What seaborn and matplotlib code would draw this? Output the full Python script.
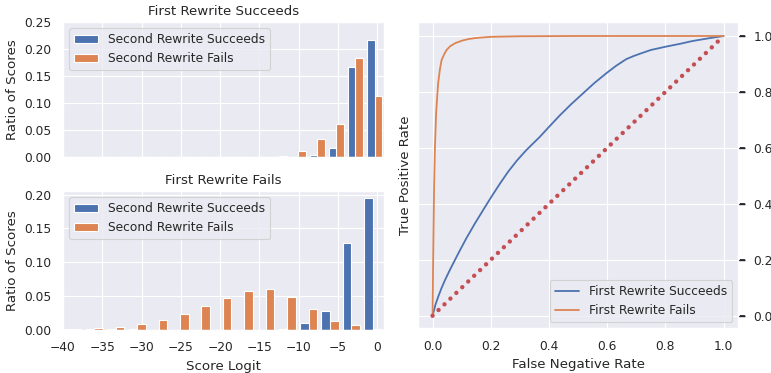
import numpy as np
import pandas as pd
import matplotlib
matplotlib.use("Agg")
import matplotlib.pyplot as plt
import seaborn as sns

# ---------------- data ----------------
hue_labels = ["Second Rewrite Succeeds", "Second Rewrite Fails"]

# Panel 1: First Rewrite Succeeds (15 bins)
top_bin_lo, top_bin_hi = -35.57, 0.88
top_succeeds = [0, 0, 0, 0, 0, 0, 0, 0, 0, 0.0002, 0.0006, 0.004, 0.0156, 0.167, 0.217]
top_fails = [0, 0, 0, 0, 0, 0, 0, 0, 0.0005, 0.002, 0.011, 0.034, 0.061, 0.183, 0.113]

# Panel 2: First Rewrite Fails (15 bins)
bot_bin_lo, bot_bin_hi = -40.10, 0.82
bot_succeeds = [0.0006, 0.0005, 0.0005, 0.0005, 0, 0, 0, 0, 0, 0, 0.0008, 0.0096, 0.0278, 0.1289, 0.1954]
bot_fails = [0.001, 0.003, 0.0041, 0.0086, 0.0145, 0.0234, 0.0357, 0.0466, 0.0574, 0.060,
             0.049, 0.0303, 0.0135, 0.0075, 0.001]

x_ticks = [-40, -35, -30, -25, -20, -15, -10, -5, 0]

# ROC curves
roc_labels = ["First Rewrite Succeeds", "First Rewrite Fails"]
succ_fnr = [0.0, 0.005, 0.01, 0.019, 0.03, 0.042, 0.06, 0.088, 0.115, 0.145, 0.175, 0.202,
            0.23, 0.259, 0.29, 0.322, 0.368, 0.40, 0.436, 0.475, 0.516, 0.555, 0.596,
            0.63, 0.665, 0.69, 0.711, 0.75, 0.802, 0.85, 0.893, 0.95, 1.0]
succ_tpr = [0.0, 0.02, 0.04, 0.067, 0.097, 0.126, 0.165, 0.222, 0.275, 0.329, 0.38, 0.425,
            0.47, 0.514, 0.555, 0.592, 0.639, 0.675, 0.715, 0.755, 0.794, 0.831, 0.866,
            0.893, 0.917, 0.928, 0.936, 0.95, 0.962, 0.972, 0.982, 0.992, 1.0]
fail_fnr = [0.0, 0.002, 0.005, 0.008, 0.012, 0.015, 0.019, 0.025, 0.031, 0.04, 0.048,
            0.06, 0.077, 0.1, 0.123, 0.15, 0.2, 0.3, 0.5, 1.0]
fail_tpr = [0.0, 0.2, 0.45, 0.6, 0.72, 0.77, 0.83, 0.88, 0.914, 0.935, 0.95,
            0.963, 0.974, 0.983, 0.989, 0.993, 0.997, 0.999, 1.0, 1.0]
chance = [0.0, 1.0]
rate_ticks = [0.0, 0.2, 0.4, 0.6, 0.8, 1.0]

# ---------------- style ----------------
sns.set_theme(context="paper", style="darkgrid")
plt.rcParams["font.family"] = ["DejaVu Sans"]
plt.rcParams["axes.unicode_minus"] = True
pal = sns.color_palette("deep")
colors = {hue_labels[0]: pal[0], hue_labels[1]: pal[1]}

fig = plt.figure(figsize=(7.71, 3.73), dpi=100)
ax_top = fig.add_axes([0.0817, 0.5795, 0.4163, 0.3610])
ax_bot = fig.add_axes([0.0817, 0.1158, 0.4163, 0.3716])
ax_roc = fig.add_axes([0.5422, 0.1198, 0.4152, 0.8212])


def hist_panel(ax, lo, hi, succ, fail, ymax, title):
    edges = np.linspace(lo, hi, len(succ) + 1)
    centers = (edges[:-1] + edges[1:]) / 2
    df = pd.DataFrame({
        "logit": np.concatenate([centers, centers]),
        "ratio": np.concatenate([succ, fail]).astype(float),
        "series": [hue_labels[0]] * len(succ) + [hue_labels[1]] * len(fail),
    })
    sns.histplot(data=df, x="logit", weights="ratio", hue="series", hue_order=hue_labels,
                 bins=[float(e) for e in edges], multiple="dodge", shrink=0.8,
                 palette=colors, alpha=1, edgecolor="white", linewidth=0.8, ax=ax)
    sns.move_legend(ax, "upper left", title=None, fontsize=8.8)
    ax.set_xlim(-40, 0.86)
    ax.set_ylim(0, ymax)
    ax.set_xticks(x_ticks)
    ax.set_title(title, fontsize=9.6, pad=5)
    ax.set_ylabel("Ratio of Scores")


hist_panel(ax_top, top_bin_lo, top_bin_hi, top_succeeds, top_fails, 0.25, "First Rewrite Succeeds")
ax_top.set_yticks([0, 0.05, 0.10, 0.15, 0.20, 0.25])
ax_top.set_xlabel("")
ax_top.tick_params(labelbottom=False)

hist_panel(ax_bot, bot_bin_lo, bot_bin_hi, bot_succeeds, bot_fails, 0.205, "First Rewrite Fails")
ax_bot.set_yticks([0, 0.05, 0.10, 0.15, 0.20])
ax_bot.set_xlabel("Score Logit")

# ROC panel
roc_df = pd.DataFrame({
    "fnr": succ_fnr + fail_fnr,
    "tpr": succ_tpr + fail_tpr,
    "curve": [roc_labels[0]] * len(succ_fnr) + [roc_labels[1]] * len(fail_fnr),
})
sns.lineplot(data=roc_df, x="fnr", y="tpr", hue="curve", hue_order=roc_labels,
             palette=[pal[0], pal[1]], estimator=None, linewidth=1.3, ax=ax_roc)
ax_roc.plot(chance, chance, color=pal[3], linewidth=3.2,
            linestyle=(0, (0.001, 1.853)), dash_capstyle="round", zorder=3)
ax_roc.set_xlim(-0.05, 1.05)
ax_roc.set_ylim(-0.045, 1.05)
ax_roc.set_xticks(rate_ticks)
ax_roc.set_yticks(rate_ticks)
ax_roc.yaxis.tick_right()
ax_roc.yaxis.set_label_position("left")
ax_roc.tick_params(axis="y", pad=6.2)
ax_roc.set_xlabel("False Negative Rate")
ax_roc.set_ylabel("True Positive Rate")
sns.move_legend(ax_roc, "lower right", title=None, fontsize=8.8)

# outward tick marks on the right axis, one per tick value
ytrans = ax_roc.get_yaxis_transform()
for v in rate_ticks:
    ax_roc.plot([1.006, 1.021], [v, v], transform=ytrans, color="0.15",
                linewidth=1.3, solid_capstyle="butt", clip_on=False)

fig.savefig("out.png", dpi=100)
